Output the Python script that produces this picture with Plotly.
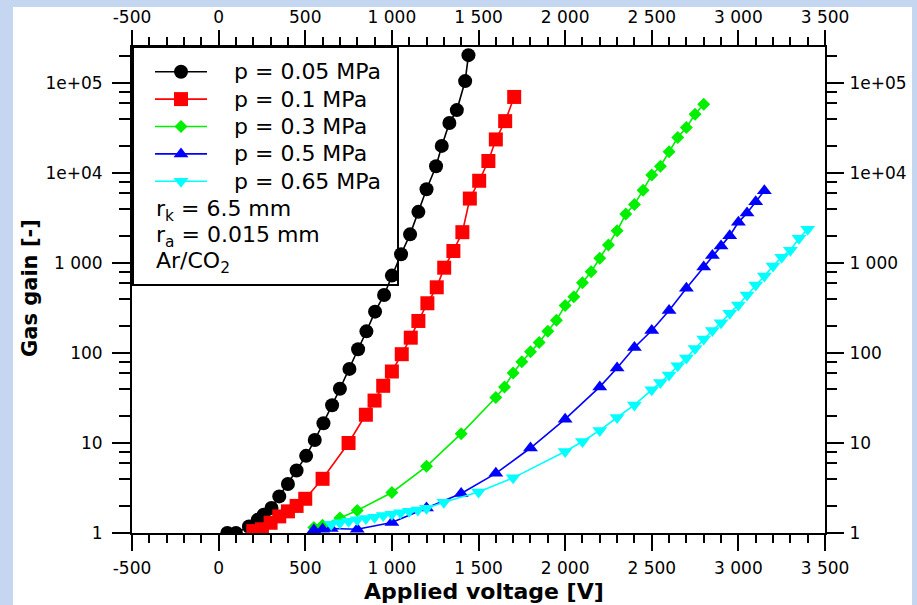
import plotly.graph_objects as go

FONT = "DejaVu Sans"

# ---------------- data ----------------
v_005 = [50, 100, 175, 225, 260, 305, 350, 400, 450, 505, 555, 605, 655, 700, 755, 805, 853, 903,
         955, 1000, 1053, 1105, 1153, 1200, 1255, 1288, 1332, 1375, 1423, 1442]
g_005 = [1.0, 1.0, 1.18, 1.4, 1.6, 1.9, 2.55, 3.5, 4.95, 7.2, 10.8, 16.6, 26.3, 40, 66.6, 110, 174, 288,
         441, 724, 1250, 2080, 3700, 6600, 11900, 20000, 36000, 50000, 105000, 204000]

v_01 = [200, 250, 300, 350, 400, 450, 500, 600, 750, 850, 900, 950, 1000, 1057, 1109, 1153, 1205, 1259,
        1302, 1355, 1407, 1450, 1504, 1557, 1600, 1654, 1706]
g_01 = [1.05, 1.1, 1.3, 1.53, 1.74, 2.0, 2.4, 4.0, 10.0, 20.6, 29.6, 43.2, 62.3, 97, 148, 227, 357, 537,
        887, 1360, 2200, 5200, 8200, 13600, 23600, 37700, 70000]

v_03 = [550, 600, 700, 800, 1000, 1200, 1400, 1600, 1650, 1700, 1750, 1800, 1850, 1900, 1950, 2000,
        2050, 2100, 2150, 2200, 2250, 2300, 2350, 2400, 2450, 2500, 2550, 2600, 2650, 2700, 2750, 2800]
g_03 = [1.15, 1.22, 1.47, 1.78, 2.82, 5.5, 12.7, 32, 42, 60, 80, 103, 131, 175, 231, 338,
        423, 604, 801, 1130, 1580, 2280, 3500, 4480, 6450, 9500, 11900, 17200, 24800, 32000, 45000, 58000]

v_05 = [550, 600, 650, 800, 1000, 1200, 1400, 1600, 1800, 2000, 2200, 2300, 2400, 2500, 2600, 2700,
        2800, 2850, 2900, 2950, 3000, 3050, 3100, 3150]
g_05 = [1.08, 1.1, 1.12, 1.1, 1.31, 1.9, 2.75, 4.6, 8.8, 18.4, 42, 68, 115, 178, 296, 524,
        900, 1210, 1540, 2010, 2830, 3600, 4800, 6350]

v_065 = [650, 700, 750, 800, 850, 900, 950, 1000, 1050, 1100, 1150, 1200, 1300, 1500, 1700, 2000, 2100,
         2200, 2300, 2400, 2500, 2550, 2600, 2650, 2700, 2750, 2800, 2850, 2900, 2950, 3000, 3050, 3100,
         3150, 3200, 3250, 3300, 3350, 3400]
g_065 = [1.25, 1.3, 1.35, 1.4, 1.45, 1.5, 1.56, 1.62, 1.68, 1.74, 1.8, 1.88, 2.2, 2.85, 4.1, 8.05, 10.4,
         13.8, 19.2, 26.5, 39, 47, 57, 72, 88, 112, 143, 178, 217, 277, 342, 442, 570,
         718, 926, 1160, 1390, 1880, 2370]

series_names = ["p = 0.05 MPa", "p = 0.1 MPa", "p = 0.3 MPa", "p = 0.5 MPa", "p = 0.65 MPa"]
note_lines = ["r<sub>k</sub> = 6.5 mm", "r<sub>a</sub> = 0.015 mm", "Ar/CO<sub>2</sub>"]

x_tickvals = [-500, 0, 500, 1000, 1500, 2000, 2500, 3000, 3500]
x_ticktext = ["-500", "0", "500", "1 000", "1 500", "2 000", "2 500", "3 000", "3 500"]
y_tickvals = [1, 10, 100, 1000, 1e4, 1e5]
y_ticktext = ["1", "10", "100", "1 000", "1e+04", "1e+05"]
y_minor = [m * 10 ** d for d in range(0, 6) for m in (2, 4, 6, 8)]

# ---------------- styles ----------------
styles = [
    dict(color="#000000", symbol="circle", size=14),
    dict(color="#ff0000", symbol="square", size=14),
    dict(color="#00f000", symbol="diamond", size=10),
    dict(color="#0000ff", symbol="triangle-up", size=13),
    dict(color="#00ffff", symbol="triangle-down", size=13),
]
data = [(v_005, g_005), (v_01, g_01), (v_03, g_03), (v_05, g_05), (v_065, g_065)]

fig = go.Figure()
for (xv, yv), st, nm in zip(data, styles, series_names):
    fig.add_trace(go.Scatter(
        x=xv, y=yv, mode="lines+markers", name=nm, showlegend=False,
        line=dict(color=st["color"], width=1.6),
        marker=dict(color=st["color"], symbol=st["symbol"], size=st["size"], line=dict(width=0)),
    ))

# invisible copy so that the mirrored top/right axes exist
fig.add_trace(go.Scatter(x=v_005, y=g_005, xaxis="x2", yaxis="y2", mode="markers",
                         marker=dict(opacity=0), showlegend=False, hoverinfo="skip"))

# ---------------- hand-made legend (pixel frame of plot area) ----------------
PW, PH = 693, 486
row0, rstep = 461.3, 27.4
for i, (st, nm) in enumerate(zip(styles, series_names)):
    yr = row0 - rstep * i
    fig.add_trace(go.Scatter(x=[23, 75], y=[yr, yr], xaxis="x3", yaxis="y3", mode="lines",
                             line=dict(color=st["color"], width=1.6), showlegend=False, hoverinfo="skip"))
    fig.add_trace(go.Scatter(x=[49], y=[yr], xaxis="x3", yaxis="y3", mode="markers",
                             marker=dict(color=st["color"], symbol=st["symbol"], size=st["size"], line=dict(width=0)),
                             showlegend=False, hoverinfo="skip"))
    fig.add_annotation(x=100, y=yr, xref="x3", yref="y3", text=nm, showarrow=False,
                       xanchor="left", yanchor="middle", font=dict(family=FONT, size=22, color="black"))
for j, txt in enumerate(note_lines):
    yr = 323 - 26 * j
    fig.add_annotation(x=22, y=yr, xref="x3", yref="y3", text=txt, showarrow=False,
                       xanchor="left", yanchor="middle", font=dict(family=FONT, size=22, color="black"))

# axis titles
fig.add_annotation(x=(484 - 132) / PW, y=(533 - 591) / PH, xref="paper", yref="paper",
                   text="<b>Applied voltage [V]</b>", showarrow=False, xanchor="center", yanchor="middle",
                   font=dict(family=FONT, size=22, color="black"))
fig.add_annotation(x=(30 - 132) / PW, y=(533 - 288) / PH, xref="paper", yref="paper",
                   text="<b>Gas gain [-]</b>", showarrow=False, textangle=-90, xanchor="center",
                   yanchor="middle", font=dict(family=FONT, size=21, color="black"))

# white page and legend frame
fig.add_shape(type="rect", xref="paper", yref="paper", x0=(13 - 132) / PW, x1=(912 - 132) / PW,
              y0=-0.3, y1=(533 - 7) / PH, fillcolor="white", line=dict(width=0), layer="below")
fig.add_shape(type="rect", xref="paper", yref="paper", x0=(133 - 132) / PW, x1=(398 - 132) / PW,
              y0=(533 - 285) / PH, y1=1, fillcolor="white", line=dict(color="black", width=2), layer="below")

tickfont = dict(family=FONT, size=17, color="black")
common_x = dict(range=[-500, 3500], tickmode="array", tickvals=x_tickvals, ticktext=x_ticktext,
                ticks="outside", tickwidth=2, tickcolor="black", showline=True, linewidth=2,
                linecolor="black", showgrid=False, zeroline=False, tickfont=tickfont, automargin=False)
common_y = dict(type="log", range=[0, 5.4], tickmode="array", tickvals=y_tickvals, ticktext=y_ticktext,
                ticks="outside", tickwidth=2, tickcolor="black", showline=True, linewidth=2,
                linecolor="black", showgrid=False, zeroline=False, tickfont=tickfont, automargin=False)

fig.update_layout(
    width=917, height=605,
    margin=dict(l=132, r=92, t=47, b=72, autoexpand=False),
    paper_bgcolor="#c4d6f0", plot_bgcolor="white",
    font=dict(family=FONT, color="black"),
    showlegend=False,
    xaxis=dict(**common_x, ticklen=16, ticklabelstandoff=3,
               minor=dict(dtick=100, tick0=-500, ticks="outside", ticklen=8, tickwidth=2, tickcolor="black")),
    xaxis2=dict(**common_x, overlaying="x", side="top", anchor="y", ticklen=15, ticklabelstandoff=0,
                minor=dict(dtick=100, tick0=-500, ticks="outside", ticklen=8, tickwidth=2, tickcolor="black")),
    yaxis=dict(**common_y, ticklen=18, ticklabelstandoff=6,
               minor=dict(tickmode="array", tickvals=y_minor, ticks="outside", ticklen=11, tickwidth=2,
                          tickcolor="black")),
    yaxis2=dict(**common_y, overlaying="y", side="right", anchor="x", ticklen=17, ticklabelstandoff=2,
                minor=dict(tickmode="array", tickvals=y_minor, ticks="outside", ticklen=10, tickwidth=2,
                           tickcolor="black")),
    xaxis3=dict(range=[0, PW], overlaying="x", anchor="y3", visible=False, fixedrange=True),
    yaxis3=dict(range=[0, PH], overlaying="y", anchor="x3", visible=False, fixedrange=True),
)

fig.write_html("out.html")
